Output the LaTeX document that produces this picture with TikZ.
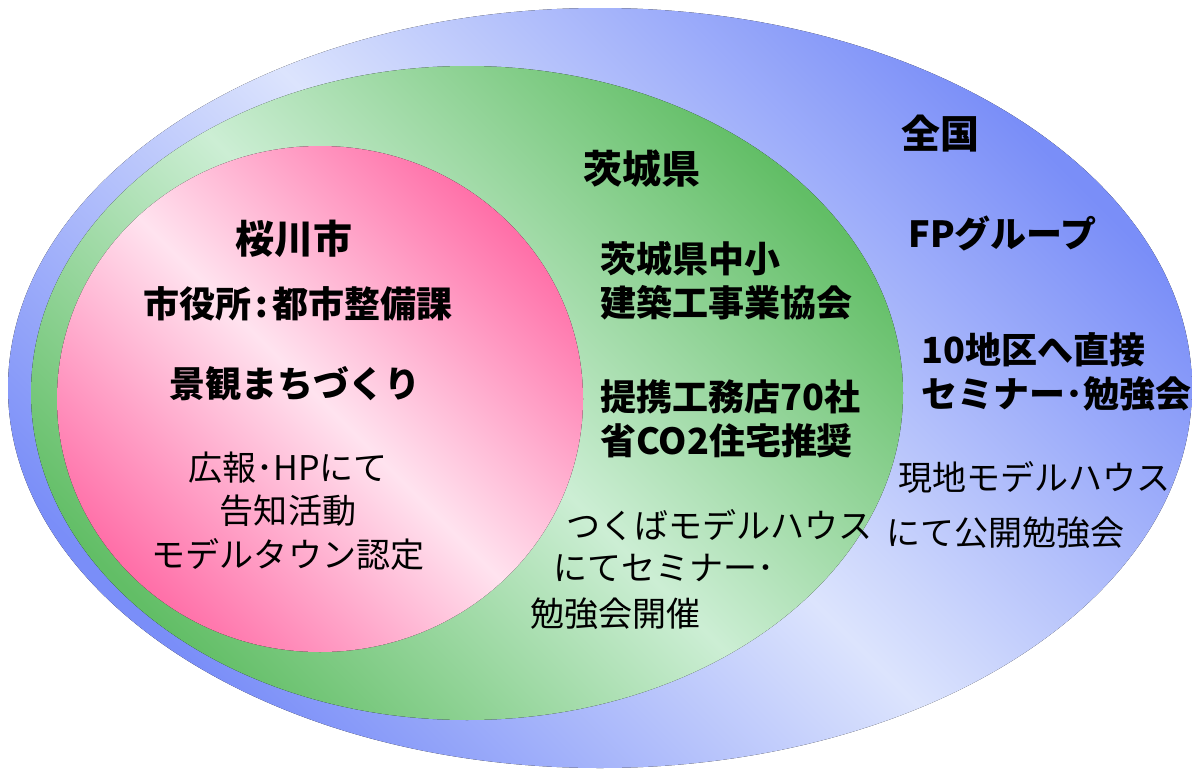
\documentclass[tikz,border=0pt]{standalone}
\usepackage{fontspec}
\usepackage{tikz}
\usepackage{xcolor}
\newfontfamily\jpfont{Noto Sans CJK JP}
\definecolor{blueDark}{HTML}{7A8EF8}
\definecolor{blueLight}{HTML}{DCE4FD}
\definecolor{greenDark}{HTML}{62BE66}
\definecolor{greenLight}{HTML}{CCEED4}
\definecolor{pinkDark}{HTML}{FF6FA8}
\definecolor{pinkLight}{HTML}{FFE3EF}
\tikzset{
    zone-shade/.style 2 args = {top color=#1, bottom color=#1, middle color=#2, shading angle=-45},
    title-text/.style = {font=\jpfont\bfseries\fontsize{27.7}{33}\selectfont, inner sep=0pt},
    bold-text/.style = {font=\jpfont\bfseries\fontsize{25.6}{31.3}\selectfont, inner sep=0pt},
    plain-text/.style = {font=\jpfont\fontsize{24.2}{31}\selectfont, inner sep=0pt},
}

\begin{document}
\begin{tikzpicture}[x=0.025cm, y=-0.025cm]
\useasboundingbox (0,0) rectangle (1192,769);
% areas
\fill[zone-shade={blueDark}{blueLight}] (600,388) ellipse [x radius=592, y radius=380];
\fill[zone-shade={greenDark}{greenLight}] (467,393) ellipse [x radius=436, y radius=327];
\fill[zone-shade={pinkDark}{pinkLight}] (320,399) ellipse [x radius=263, y radius=253];
% 桜川市
\node[title-text] (sakuragawa) at (294,239) {桜川市};
\node[bold-text] (shiyakusho) at (298,304) {市役所\kern0.12em:\kern0.12em都市整備課};
\node[bold-text] (keikan) at (295,384) {景観まちづくり};
\node[plain-text, align=center] (kouhou) at (288,511) {広報･HPにて\\告知活動\\モデルタウン認定};
% 茨城県
\node[title-text] (ibaraki) at (642,169) {茨城県};
\node[bold-text, align=left, anchor=west] (kyoukai) at (600,281) {茨城県中小\\建築工事業協会};
\node[bold-text, align=left, anchor=west] (teikei) at (600,419) {提携工務店70社\\省CO2住宅推奨};
\node[plain-text, anchor=west] (tsukuba) at (566,525) {つくばモデルハウス};
\node[plain-text, anchor=west] (seminar) at (553,568) {にてセミナー･};
\node[plain-text, anchor=west] (kaisai) at (530,614) {勉強会開催};
% 全国
\node[title-text] (zenkoku) at (940,134) {全国};
\node[bold-text, anchor=west] (fp) at (908,233) {FPグループ};
\node[bold-text, align=left, anchor=west] (chiku) at (921,372) {10地区へ直接\\セミナー･勉強会};
\node[plain-text, anchor=west] (genchi) at (898,477) {現地モデルハウス};
\node[plain-text, anchor=west] (koukai) at (886,533) {にて公開勉強会};
\end{tikzpicture}
\end{document}
